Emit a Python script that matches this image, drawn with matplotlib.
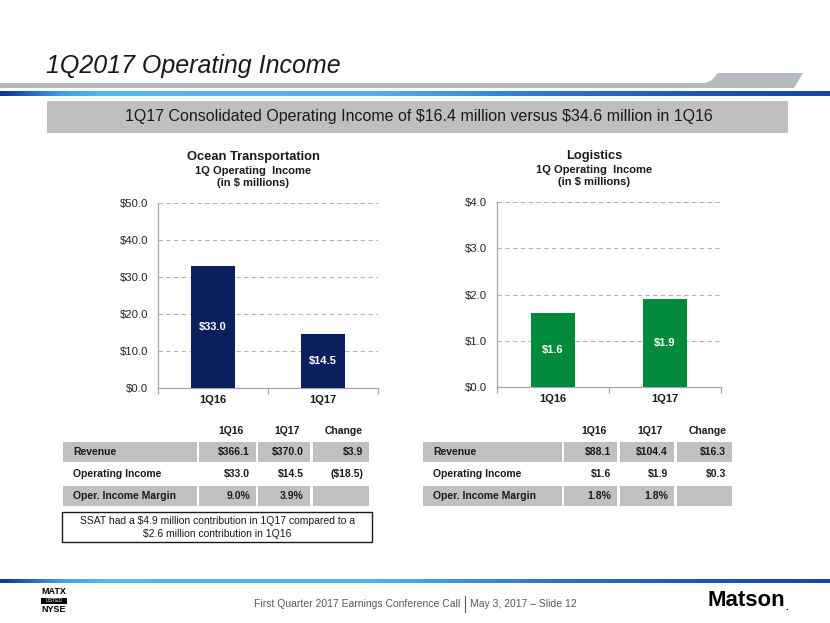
import matplotlib
matplotlib.use('Agg')
import matplotlib.pyplot as plt
import numpy as np
from matplotlib.patches import Rectangle, Polygon
from matplotlib.colors import LinearSegmentedColormap

plt.rcParams['font.family'] = ['Liberation Sans', 'DejaVu Sans']
plt.rcParams['text.parse_math'] = False

W, H, DPI = 830, 623, 100

# ---------------- data ----------------
categories = ['1Q16', '1Q17']
ocean_values = [33.0, 14.5]
logistics_values = [1.6, 1.9]
ocean_ticks = [0, 10, 20, 30, 40, 50]
logistics_ticks = [0, 1, 2, 3, 4]

table_cols = ['1Q16', '1Q17', 'Change']
table_rows = ['Revenue', 'Operating Income', 'Oper. Income Margin']
ocean_table = [['$366.1', '$370.0', '$3.9'],
               ['$33.0', '$14.5', '($18.5)'],
               ['9.0%', '3.9%', '']]
logistics_table = [['$88.1', '$104.4', '$16.3'],
                   ['$1.6', '$1.9', '$0.3'],
                   ['1.8%', '1.8%', '']]

slide_title = '1Q2017 Operating Income'
banner_text = '1Q17 Consolidated Operating Income of $16.4 million versus $34.6 million in 1Q16'
ssat_note = ['SSAT had a $4.9 million contribution in 1Q17 compared to a',
             '$2.6 million contribution in 1Q16']
footer_left = 'First Quarter 2017 Earnings Conference Call'
footer_right = 'May 3, 2017 \u2013 Slide 12'

NAVY = '#0b1f5e'
GREEN = '#008a3c'
CELL_GRAY = '#c0c0c0'

fig = plt.figure(figsize=(W / DPI, H / DPI), dpi=DPI)
bg = fig.add_axes([0, 0, 1, 1], zorder=0)
bg.set_xlim(0, W)
bg.set_ylim(H, 0)
bg.axis('off')

# ---------------- header ----------------
bg.text(46, 66, slide_title, fontsize=18, style='italic', color='#1a1a1a',
        ha='left', va='center')
hdr = Polygon([(0, 83), (705, 83), (712, 80), (718, 73), (803, 73), (794, 88), (0, 88)],
              closed=True, facecolor='#b5bac0', edgecolor='none')
bg.add_patch(hdr)

blue_cmap = LinearSegmentedColormap.from_list('blu', [
    (0.0, '#0d3796'), (0.07, '#3f9de6'), (0.12, '#58b6f0'), (0.45, '#55b0ee'),
    (0.65, '#2f78cc'), (0.85, '#1b55b2'), (1.0, '#1448a8')])
grad = np.linspace(0, 1, 400).reshape(1, -1)
bg.imshow(grad, cmap=blue_cmap, extent=(0, W, 96, 91), aspect='auto', zorder=1)
bg.imshow(grad, cmap=blue_cmap, extent=(0, W, 583, 579), aspect='auto', zorder=1)

bg.add_patch(Rectangle((47, 101), 741, 32, facecolor='#bfbfbf', edgecolor='none'))
bg.text(419, 117, banner_text, fontsize=11.5, color='#1a1a1a', ha='center', va='center')

bg.set_xlim(0, W)
bg.set_ylim(H, 0)

# ---------------- charts ----------------
def dollar(v):
    return f'${v:.1f}'

def make_chart(rect, values, ticks, color):
    x0, y0, w, h = rect
    ax = fig.add_axes([x0 / W, 1 - (y0 + h) / H, w / W, h / H], zorder=2)
    ax.patch.set_alpha(0)
    x = np.arange(len(categories))
    ax.bar(x, values, width=0.4, color=color, zorder=3)
    ax.set_xlim(-0.5, len(categories) - 0.5)
    ax.set_ylim(ticks[0], ticks[-1])
    ax.set_yticks(ticks)
    ax.set_yticklabels([dollar(t) for t in ticks])
    ax.set_xticks(x)
    ax.set_xticklabels(categories, fontweight='bold')
    ax.set_xticks(np.arange(-0.5, len(categories)), minor=True)
    for s in ['top', 'right']:
        ax.spines[s].set_visible(False)
    for s in ['left', 'bottom']:
        ax.spines[s].set_color('#a6a6a6')
        ax.spines[s].set_linewidth(0.9)
    ax.yaxis.grid(True, linestyle=(0, (4, 3)), color='#b3b3b3', linewidth=0.8, zorder=0)
    ax.set_axisbelow(True)
    ax.tick_params(axis='y', length=0, pad=7, labelsize=8.2, labelcolor='#262626')
    ax.tick_params(axis='x', which='major', length=0, pad=5, labelsize=8, labelcolor='#1a1a1a')
    ax.tick_params(axis='x', which='minor', length=4, width=0.9, color='#a6a6a6', direction='out')
    for xi, v in zip(x, values):
        ax.text(xi, v / 2, dollar(v), ha='center', va='center', color='white',
                fontweight='bold', fontsize=8, zorder=4)
    return ax

make_chart((158, 203, 220, 185), ocean_values, ocean_ticks, NAVY)
make_chart((497, 202, 224, 185), logistics_values, logistics_ticks, GREEN)

def chart_title(x, y, name):
    bg.text(x, y, name, fontsize=9.3, fontweight='bold', ha='center', va='center', color='#1a1a1a')
    bg.text(x, y + 14, '1Q Operating  Income', fontsize=8, fontweight='bold', ha='center',
            va='center', color='#1a1a1a')
    bg.text(x, y + 26, '(in $ millions)', fontsize=8, fontweight='bold', ha='center',
            va='center', color='#1a1a1a')

chart_title(253, 157, 'Ocean Transportation')
chart_title(594, 156, 'Logistics')

# ---------------- tables ----------------
def draw_table(col_bounds, values):
    row_y = [452, 474, 496]
    for j, name in enumerate(table_cols):
        l, r = col_bounds[j + 1]
        bg.text((l + r) / 2 + 3, 431, name, fontsize=7.5, fontweight='bold',
                ha='center', va='center', color='#1a1a1a')
    for i, rname in enumerate(table_rows):
        yc = row_y[i]
        if i % 2 == 0:
            for (l, r) in col_bounds:
                bg.add_patch(Rectangle((l, yc - 10), r - l, 20, facecolor=CELL_GRAY,
                                       edgecolor='none'))
        l0 = col_bounds[0][0]
        bg.text(l0 + 10, yc, rname, fontsize=7.5, fontweight='bold', ha='left',
                va='center', color='#1a1a1a')
        for j, val in enumerate(values[i]):
            l, r = col_bounds[j + 1]
            bg.text(r - 6, yc, val, fontsize=7.5, fontweight='bold', ha='right',
                    va='center', color='#1a1a1a')

draw_table([(63, 197), (199, 256), (258, 310), (313, 369)], ocean_table)
draw_table([(423, 562), (564, 617), (620, 674), (677, 732)], logistics_table)

bg.add_patch(Rectangle((62, 512), 310, 30, facecolor='white', edgecolor='#1a1a1a', linewidth=1))
bg.text(217, 521, ssat_note[0], fontsize=7.5, ha='center', va='center', color='#1a1a1a')
bg.text(217, 534, ssat_note[1], fontsize=7.5, ha='center', va='center', color='#1a1a1a')

# ---------------- footer ----------------
bg.text(460, 604, footer_left, fontsize=7.5, ha='right', va='center', color='#595959')
bg.plot([465, 465], [596, 612], color='#595959', linewidth=0.8)
bg.text(470, 604, footer_right, fontsize=7.5, ha='left', va='center', color='#595959')

bg.text(54, 591.5, 'MATX', fontsize=6.5, fontweight='bold', ha='center', va='center', color='black')
bg.add_patch(Rectangle((41, 598), 26, 6, facecolor='black', edgecolor='none'))
bg.text(54, 601, 'LISTED', fontsize=3.5, ha='center', va='center', color='white')
bg.text(54, 609.5, 'NYSE', fontsize=6.5, fontweight='bold', ha='center', va='center', color='black')

bg.text(707, 600, 'Matson', fontsize=16, fontweight='bold', ha='left', va='center', color='black')
bg.text(785, 607, '.', fontsize=7, fontweight='bold', ha='left', va='center', color='black')

bg.set_xlim(0, W)
bg.set_ylim(H, 0)

fig.savefig('out.png', dpi=DPI)
